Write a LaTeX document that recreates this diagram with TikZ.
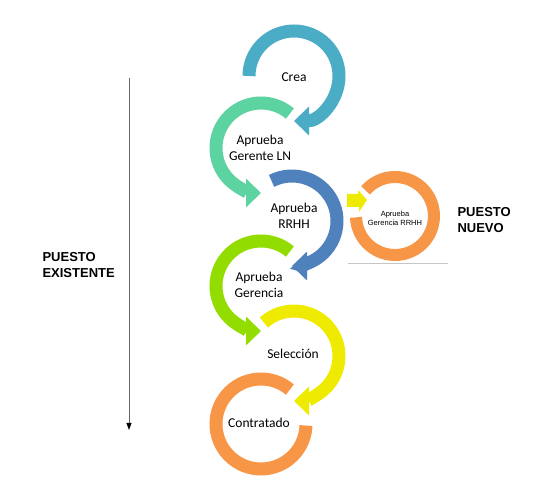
\documentclass[tikz,border=0pt]{standalone}
\usepackage{fontspec}
\setmainfont{Carlito}
\newfontfamily\arialfont{Liberation Sans}
\usetikzlibrary{arrows.meta, positioning}

\definecolor{creablue}{HTML}{4BACC6}
\definecolor{gerentegreen}{HTML}{5CD3A0}
\definecolor{rrhhblue}{HTML}{4F81BD}
\definecolor{gerencialime}{HTML}{92DC00}
\definecolor{seleccionyellow}{HTML}{EEEA00}
\definecolor{contratadoorange}{HTML}{F79646}

\begin{document}
\begin{tikzpicture}[x=1pt, y=1pt,
  ring/.style={line width=13pt},
  ringtip/.style={-{Triangle[length=15pt,width=28pt]}},
  steplabel/.style={align=center, font=\fontsize{13.5}{15.5}\selectfont},
  sidelabel/.style={anchor=west, align=left, font=\arialfont\bfseries\fontsize{13}{16}\selectfont}]
\useasboundingbox (0,0) rectangle (558,498);

% circle centres
\coordinate (c1) at (294,422);
\coordinate (c2) at (261,350);
\coordinate (c3) at (292,277);
\coordinate (c4) at (261,212);
\coordinate (c5) at (294,142);
\coordinate (c6) at (261,74);
\coordinate (c7) at (395,282);

% circular arrows, top to bottom
\draw[ring, ringtip, creablue] (c1) ++(180:45) arc[start angle=180, end angle=-90, radius=45];
\draw[ring, ringtip, gerentegreen] (c2) ++(50:45) arc[start angle=50, end angle=270, radius=45];
\draw[ring, ringtip, rrhhblue] (c3) ++(117:45) arc[start angle=117, end angle=-90, radius=45];
\draw[ring, ringtip, gerencialime] (c4) ++(50:45) arc[start angle=50, end angle=270, radius=45];
\draw[ring, ringtip, seleccionyellow] (c5) ++(132:45) arc[start angle=132, end angle=-90, radius=45];
\draw[ring, contratadoorange] (c6) ++(50:45) arc[start angle=50, end angle=358, radius=45];

% step labels
\node[steplabel] (crea) at (294,421) {Crea};
\node[steplabel] (gerenteln) at (260,350) {Aprueba\\Gerente LN};
\node[steplabel] (rrhh) at (294,282) {Aprueba\\RRHH};
\node[steplabel] (gerencia) at (259,213) {Aprueba\\Gerencia};
\node[steplabel] (seleccion) at (293,144) {Selección};
\node[steplabel] (contratado) at (259,75) {Contratado};

% new post branch
\fill[seleccionyellow] (347,304) -- (358,304) -- (358,308) -- (367,298) -- (359,286) -- (359,291) -- (347,291) -- cycle;
\draw[line width=12pt, contratadoorange] (c7) ++(139:39) arc[start angle=139, end angle=-178, radius=39];
\node[align=center, font=\arialfont\fontsize{7.5}{9}\selectfont] (gerenciarrhh) at (395,280) {Aprueba\\Gerencia RRHH};
\coordinate (baseleft) at (348,234);
\coordinate (baseright) at (448,234);
\draw[gray!45, line width=1pt] (baseleft) -- (baseright);
\node[sidelabel] (nuevo) at (454,278) {PUESTO\\NUEVO};

% existing post axis
\coordinate (axistop) at (129,420);
\coordinate (axisend) at (129,68);
\draw[gray!80!black, line width=0.9pt, -{Triangle[length=7pt,width=5pt,black]}] (axistop) -- (axisend);
\node[sidelabel] (existente) at (39,233) {PUESTO\\EXISTENTE};
\end{tikzpicture}
\end{document}
